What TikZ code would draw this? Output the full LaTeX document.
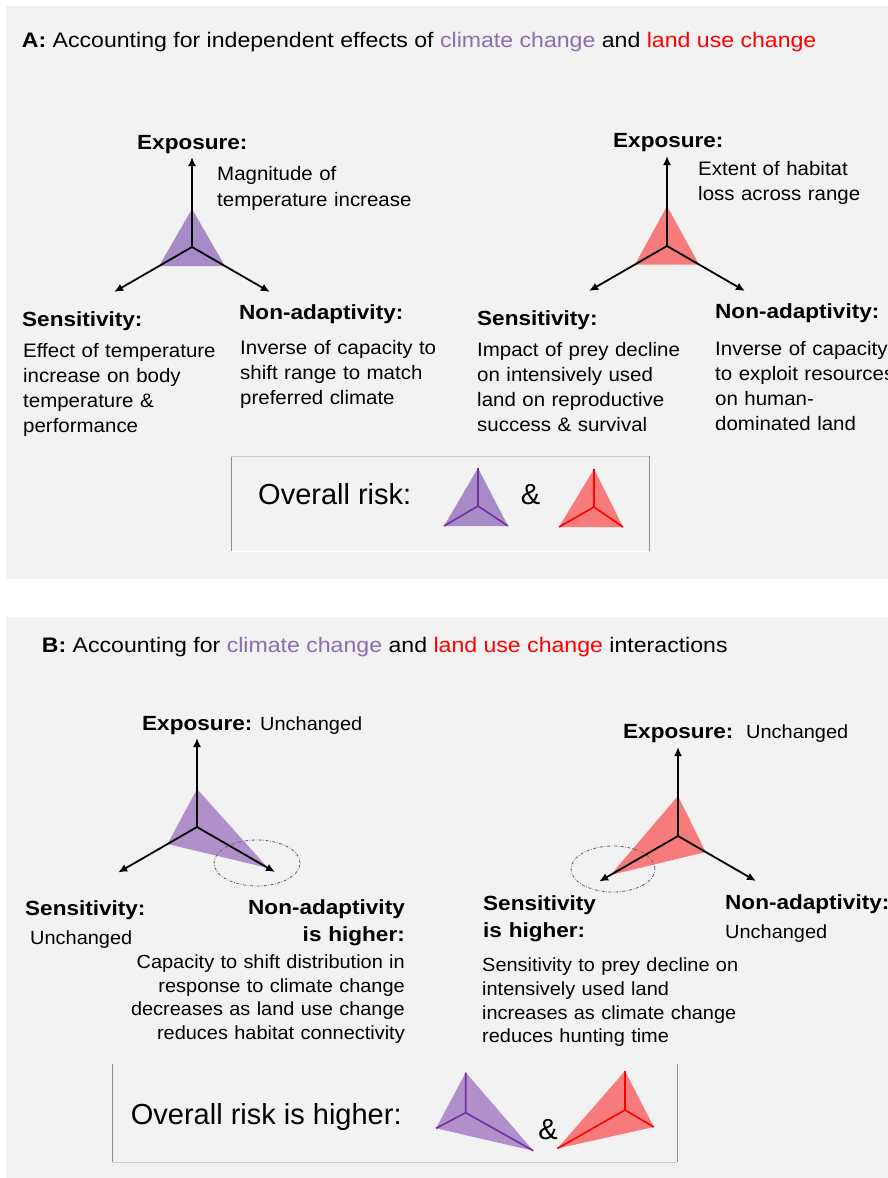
\documentclass[tikz,border=0pt]{standalone}
\usepackage{fontspec}
\setmainfont{Liberation Sans}
\newfontfamily\bodyfont[FakeStretch=1.05]{Liberation Sans}
\newfontfamily\labfont[FakeStretch=1.1]{Liberation Sans}
\usetikzlibrary{arrows.meta,calc}
\definecolor{panelbg}{HTML}{F2F2F2}
\definecolor{climtxt}{HTML}{8B6DB0}
\definecolor{landtxt}{HTML}{FF0000}
\definecolor{climfill}{HTML}{A68BC6}
\definecolor{climfillB}{HTML}{B08FCB}
\definecolor{landfill}{HTML}{F87B7B}
\definecolor{climline}{HTML}{7030A0}
\definecolor{landline}{HTML}{FF0000}
\definecolor{boxside}{HTML}{8C8C8C}
\definecolor{boxtop}{HTML}{C8C8C8}
\tikzset{
  axisarrow/.style={line width=1.8pt, -{Latex[length=9pt,width=8pt]}},
  glyphline/.style={line width=1.6pt},
  lab/.style={inner sep=0pt, text width=300pt, font=\labfont\bfseries\fontsize{20.5}{27.5}\selectfont},
  labL/.style={lab, anchor=base west, align=left},
  labR/.style={lab, anchor=base east, align=right},
  bodyA/.style={inner sep=0pt, anchor=base west, align=left, text width=300pt, font=\bodyfont\fontsize{19.5}{25}\selectfont},
  bodyB/.style={inner sep=0pt, text width=300pt, font=\bodyfont\fontsize{19}{23.7}\selectfont},
  bodyBL/.style={bodyB, anchor=base west, align=left},
  bodyBR/.style={bodyB, anchor=base east, align=right},
  titletext/.style={inner sep=0pt, anchor=base west, font=\labfont\fontsize{21}{25}\selectfont},
  risktext/.style={inner sep=0pt, anchor=base west, font=\fontsize{29}{34}\selectfont},
  ampnode/.style={inner sep=0pt, anchor=base, font=\fontsize{29}{34}\selectfont},
  circled/.style={draw=gray!75!black, line width=0.8pt, dash pattern=on 3pt off 1.6pt on 0.7pt off 1.6pt}
}
\begin{document}
\begin{tikzpicture}[x=1pt,y=-1pt]
\useasboundingbox (0,0) rectangle (888,1178);
% panels
\fill[panelbg] (6,6) rectangle (888,579);
\fill[panelbg] (6,617) rectangle (888,1178);

% ================= Panel A =================
\node[titletext] (tA) at (21.7,47.3) {\textbf{A:} Accounting for independent effects of \textcolor{climtxt}{climate change} and \textcolor{landtxt}{land use change}};

% ---- A left (climate) ----
\coordinate (ca) at (192,247);
\coordinate (ca-u) at ($(ca)+(90:90pt)$);
\coordinate (ca-l) at ($(ca)+(210:90pt)$);
\coordinate (ca-r) at ($(ca)+(330:90pt)$);
\fill[climfill] ($(ca)+(90:38pt)$) -- ($(ca)+(210:38pt)$) -- ($(ca)+(330:38pt)$) -- cycle;
\draw[axisarrow] (ca) -- (ca-u);
\draw[axisarrow] (ca) -- (ca-l);
\draw[axisarrow] (ca) -- (ca-r);
\node[labL] (ca-exp) at (137,149) {Exposure:};
\node[bodyA, font=\bodyfont\fontsize{19.5}{26}\selectfont] (ca-expt) at (217,180.5) {Magnitude of\\temperature increase};
\node[labL] (ca-sen) at (22,326) {Sensitivity:};
\node[bodyA] (ca-sent) at (23,357.5) {Effect of temperature\\increase on body\\temperature \&\\performance};
\node[labL] (ca-non) at (239,319) {Non-adaptivity:};
\node[bodyA] (ca-nont) at (240,354.5) {Inverse of capacity to\\shift range to match\\preferred climate};

% ---- A right (land use) ----
\coordinate (la) at (667,246);
\coordinate (la-u) at ($(la)+(90:90pt)$);
\coordinate (la-l) at ($(la)+(210:90pt)$);
\coordinate (la-r) at ($(la)+(330:90pt)$);
\fill[landfill] ($(la)+(90:40pt)$) -- ($(la)+(210:37pt)$) -- ($(la)+(330:37pt)$) -- cycle;
\draw[axisarrow] (la) -- (la-u);
\draw[axisarrow] (la) -- (la-l);
\draw[axisarrow] (la) -- (la-r);
\node[labL] (la-exp) at (613,147) {Exposure:};
\node[bodyA] (la-expt) at (698,175.5) {Extent of habitat\\loss across range};
\node[labL] (la-sen) at (477,325) {Sensitivity:};
\node[bodyA] (la-sent) at (477,356.5) {Impact of prey decline\\on intensively used\\land on reproductive\\success \& survival};
\node[labL] (la-non) at (715,318) {Non-adaptivity:};
\node[bodyA] (la-nont) at (715,355.5) {Inverse of capacity\\to exploit resources\\on human-\\dominated land};

% ---- A overall risk box ----
\draw[boxside, line width=1pt] (231,456) -- (231,551);
\draw[boxside, line width=1pt] (649,456) -- (649,551);
\draw[boxtop, line width=1pt] (231,456) -- (649,456);
\draw[white, line width=1pt] (231,551) -- (649,551);
\node[risktext] (ra) at (258,504.3) {Overall risk:};
\coordinate (ga) at (478,506);
\coordinate (ga-u) at (478,468);
\coordinate (ga-l) at (444,526);
\coordinate (ga-r) at (508,526);
\fill[climfill] (ga-u) -- (ga-l) -- (ga-r) -- cycle;
\draw[climline, glyphline] (ga) -- (ga-u) (ga) -- (ga-l) (ga) -- (ga-r);
\node[ampnode] (ampa) at (530.5,504.3) {\&};
\coordinate (gb) at (594,507);
\coordinate (gb-u) at (594,469);
\coordinate (gb-l) at (559,527);
\coordinate (gb-r) at (623,527);
\fill[landfill] (gb-u) -- (gb-l) -- (gb-r) -- cycle;
\draw[landline, glyphline] (gb) -- (gb-u) (gb) -- (gb-l) (gb) -- (gb-r);

% ================= Panel B =================
\node[titletext] (tB) at (41.7,652.3) {\textbf{B:} Accounting for \textcolor{climtxt}{climate change} and \textcolor{landtxt}{land use change} interactions};

% ---- B left (climate) ----
\coordinate (cb) at (197,827);
\coordinate (cb-u) at ($(cb)+(90:89pt)$);
\coordinate (cb-l) at ($(cb)+(210:91pt)$);
\coordinate (cb-r) at ($(cb)+(330:90pt)$);
\fill[climfillB] ($(cb)+(90:38pt)$) -- ($(cb)+(210:34pt)$) -- ($(cb)+(330:82pt)$) -- cycle;
\draw[axisarrow] (cb) -- (cb-u);
\draw[axisarrow] (cb) -- (cb-l);
\draw[axisarrow] (cb) -- (cb-r);
\draw[circled] (257,863) ellipse [x radius=43pt, y radius=23pt];
\node[labL] (cb-exp) at (142,730) {Exposure:};
\node[bodyBL] (cb-expt) at (260,730) {Unchanged};
\node[labL] (cb-sen) at (25,915) {Sensitivity:};
\node[bodyBL] (cb-sent) at (30,944) {Unchanged};
\node[labR] (cb-non) at (405,914) {Non-adaptivity\\is higher:};
\node[bodyBR] (cb-nont) at (405,968.3) {Capacity to shift distribution in\\response to climate change\\decreases as land use change\\reduces habitat connectivity};

% ---- B right (land use) ----
\coordinate (lb) at (678,836);
\coordinate (lb-u) at ($(lb)+(90:89pt)$);
\coordinate (lb-l) at ($(lb)+(210:91pt)$);
\coordinate (lb-r) at ($(lb)+(330:90pt)$);
\fill[landfill] ($(lb)+(90:40pt)$) -- ($(lb)+(210:78pt)$) -- ($(lb)+(330:32pt)$) -- cycle;
\draw[axisarrow] (lb) -- (lb-u);
\draw[axisarrow] (lb) -- (lb-l);
\draw[axisarrow] (lb) -- (lb-r);
\draw[circled] (613,869) ellipse [x radius=42pt, y radius=23pt];
\node[labL] (lb-exp) at (623,738) {Exposure:};
\node[bodyBL] (lb-expt) at (746,738) {Unchanged};
\node[labL] (lb-sen) at (483,910) {Sensitivity\\is higher:};
\node[bodyBL] (lb-sent) at (482,971.7) {Sensitivity to prey decline on\\intensively used land\\increases as climate change\\reduces hunting time};
\node[labL] (lb-non) at (725,909.3) {Non-adaptivity:};
\node[bodyBL] (lb-nont) at (725,938.3) {Unchanged};

% ---- B overall risk box ----
\draw[boxside, line width=1pt] (112.6,1064) -- (112.6,1162);
\draw[boxside, line width=1pt] (677,1064) -- (677,1162);
\draw[white!90!gray, line width=1pt] (112.6,1064) -- (677,1064);
\draw[boxtop, line width=1pt] (112.6,1162) -- (677,1162);
\node[risktext] (rb) at (130.7,1124) {Overall risk is higher:};
\coordinate (gc) at (465.7,1112.7);
\coordinate (gc-u) at (465.7,1072.5);
\coordinate (gc-l) at (436,1128.3);
\coordinate (gc-r) at (533.3,1150.7);
\fill[climfillB] (gc-u) -- (gc-l) -- (gc-r) -- cycle;
\draw[climline, glyphline] (gc) -- (gc-u) (gc) -- (gc-l) (gc) -- (gc-r);
\node[ampnode] (ampb) at (548,1139) {\&};
\coordinate (gd) at (625,1110);
\coordinate (gd-u) at (625,1071);
\coordinate (gd-l) at (557.3,1148.5);
\coordinate (gd-r) at (653.8,1127);
\fill[landfill] (gd-u) -- (gd-l) -- (gd-r) -- cycle;
\draw[landline, glyphline] (gd) -- (gd-u) (gd) -- (gd-l) (gd) -- (gd-r);
\end{tikzpicture}
\end{document}
